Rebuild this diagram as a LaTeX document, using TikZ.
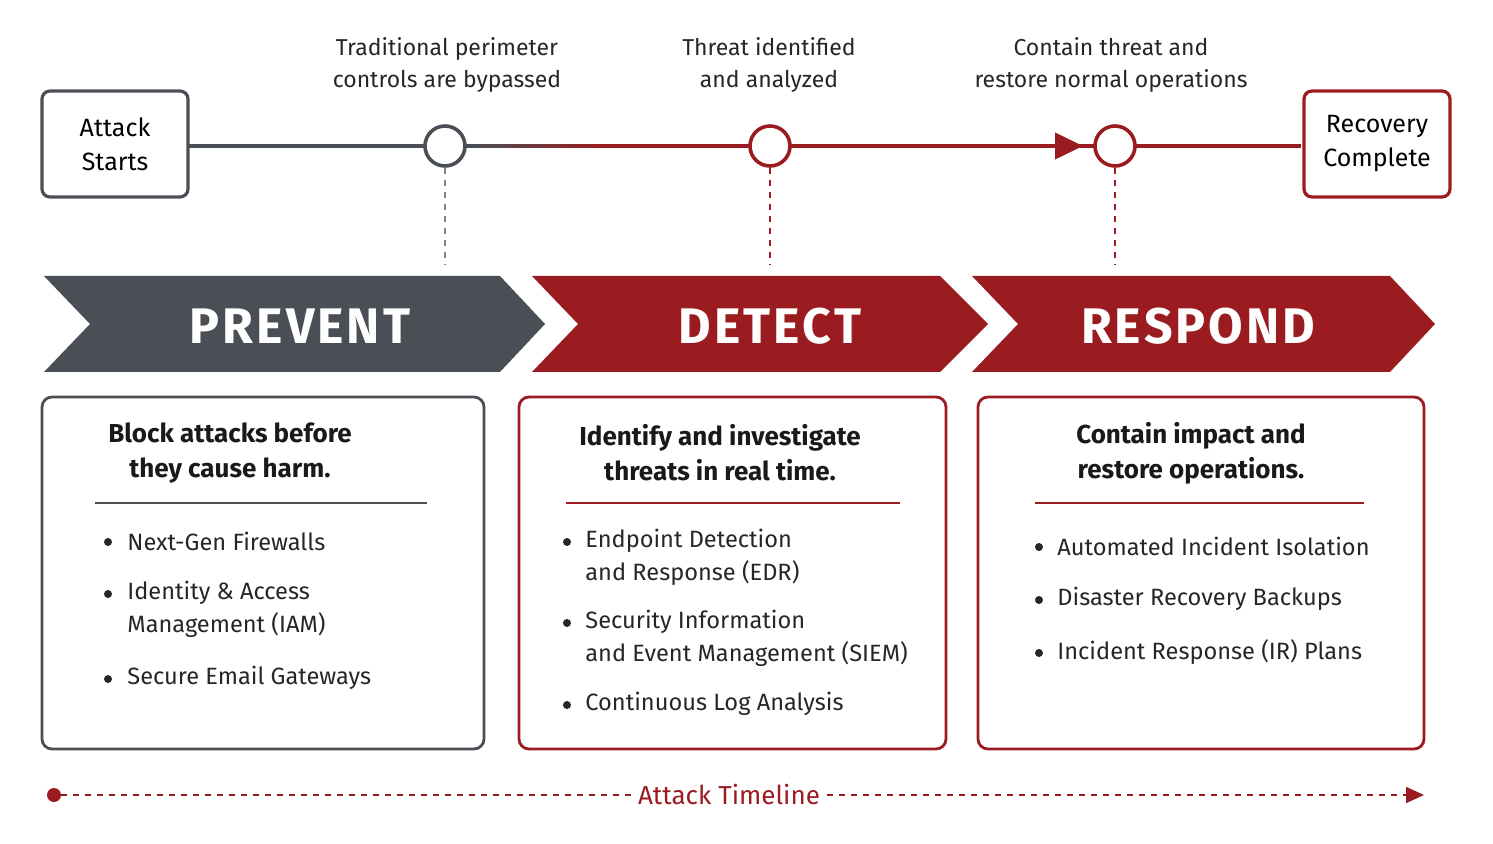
\documentclass[tikz,border=0pt]{standalone}
\usepackage{fontspec}
\setmainfont{Fira Sans}
\usetikzlibrary{arrows.meta}
\definecolor{cred}{HTML}{9B1C20}
\definecolor{cgray}{HTML}{4A4F55}
\begin{document}
\begin{tikzpicture}[x=0.5pt,y=-0.5pt,
  endbox/.style={draw=#1,line width=1.6pt,rounded corners=4pt,fill=white,minimum width=73pt,minimum height=53pt,align=center,font=\fontsize{12.5}{17}\selectfont,inner sep=0pt},
  mile/.style={circle,draw=#1,line width=1.8pt,fill=white,minimum size=20pt,inner sep=0pt},
  lab/.style={align=center,font=\fontsize{11.5}{16}\selectfont,text=black!85},
  vdash/.style={draw=#1,dashed,line width=0.6pt},
  chev/.style={font=\fontsize{25}{25}\bfseries\selectfont,text=white},
  panel/.style={draw=#1,line width=1.4pt,rounded corners=5pt},
  head/.style={align=center,font=\fontsize{13}{17.5}\selectfont\bfseries,text=black!90},
  item/.style={anchor=west,align=left,font=\fontsize{11.8}{16.5}\selectfont,text=black!85,inner sep=0pt},
  dot/.style={circle,fill=black!85,minimum size=4pt,inner sep=0pt}]
\useasboundingbox (0,0) rectangle (1493,844);
% main line
\draw[cgray,line width=2pt] (188,146) -- (470,146);
\foreach \i in {0,...,13} {
  \pgfmathsetmacro{\p}{\i*100/13}
  \draw[cred!\p!cgray,line width=2pt] (470+\i*10,146) -- (481+\i*10,146);
}
\draw[cred,line width=2pt] (600,146) -- (1301,146);
\draw[cred,line width=2pt,-{Triangle[length=14pt,width=13pt]}] (900,146) -- (1083,146);
\node[endbox=cgray] (start) at (115,144) {Attack\\Starts};
\node[endbox=cred] (end) at (1377,144) {Recovery\\Complete};
\node[mile=cgray] (m1) at (445,146) {};
\node[mile=cred] (m2) at (770,146) {};
\node[mile=cred] (m3) at (1115,146) {};
\node[lab] (l1) at (447,65) {Traditional perimeter\\controls are bypassed};
\node[lab] (l2) at (769,65) {Threat identified\\and analyzed};
\node[lab] (l3) at (1111,65) {Contain threat and\\restore normal operations};
\coordinate (d1) at (445,265); \coordinate (d2) at (770,265); \coordinate (d3) at (1115,265);
\draw[vdash=cgray!70] (m1) -- (d1);
\draw[vdash=cred] (m2) -- (d2);
\draw[vdash=cred] (m3) -- (d3);
% chevrons
\fill[cgray] (44,276) -- (500,276) -- (545,324) -- (500,372) -- (44,372) -- (90,324) -- cycle;
\fill[cred] (532,276) -- (940,276) -- (988,324) -- (940,372) -- (532,372) -- (578,324) -- cycle;
\fill[cred] (972,276) -- (1390,276) -- (1435,324) -- (1390,372) -- (972,372) -- (1018,324) -- cycle;
\node[chev] (c1) at (300,326) {P\kern1.5pt R\kern1.5pt E\kern1.5pt V\kern1.5pt E\kern1.5pt N\kern1.5pt T};
\node[chev] (c2) at (770,326) {D\kern1.5pt E\kern1.5pt T\kern1.5pt E\kern1.5pt C\kern1.5pt T};
\node[chev] (c3) at (1198,326) {R\kern1.5pt E\kern1.5pt S\kern1.5pt P\kern1.5pt O\kern1.5pt N\kern1.5pt D};
% panels
\draw[panel=cgray] (42,397) rectangle (484,749);
\draw[panel=cred] (519,397) rectangle (946,749);
\draw[panel=cred] (978,397) rectangle (1424,749);
\node[head] (h1) at (230,453) {Block attacks before\\they cause harm.};
\node[head] (h2) at (720,453) {Identify and investigate\\threats in real time.};
\node[head] (h3) at (1191,453) {Contain impact and\\restore operations.};
\draw[cgray,line width=0.8pt] (95,503) -- (427,503);
\draw[cred,line width=0.8pt] (566,503) -- (900,503);
\draw[cred,line width=0.8pt] (1035,503) -- (1364,503);
% bullets
\foreach \x/\y in {108/542,108/594,108/679,567/542,567/623,567/705,1039/547,1039/600,1039/653} \node[dot] at (\x,\y) {};
\node[item] (p1) at (127,541) {Next-Gen Firewalls};
\node[item] (p2) at (127,609) {Identity \& Access\\Management (IAM)};
\node[item] (p3) at (127,678) {Secure Email Gateways};
\node[item] (q1) at (585,557) {Endpoint Detection\\and Response (EDR)};
\node[item] (q2) at (585,638) {Security Information\\and Event Management (SIEM)};
\node[item] (q3) at (585,704) {Continuous Log Analysis};
\node[item] (r1) at (1057,546) {Automated Incident Isolation};
\node[item] (r2) at (1057,599) {Disaster Recovery Backups};
\node[item] (r3) at (1057,652) {Incident Response (IR) Plans};
% bottom timeline
\node[circle,fill=cred,minimum size=7pt,inner sep=0pt] (t0) at (54,795) {};
\node[font=\fontsize{13}{15}\selectfont,text=cred] (tl) at (729,795) {Attack Timeline};
\coordinate (t1) at (1424,795);
\draw[cred,dashed,line width=0.8pt] (t0) -- (tl.west);
\draw[cred,dashed,line width=0.8pt,-{Triangle[length=9pt,width=8pt]}] (tl.east) -- (t1);
\end{tikzpicture}
\end{document}
